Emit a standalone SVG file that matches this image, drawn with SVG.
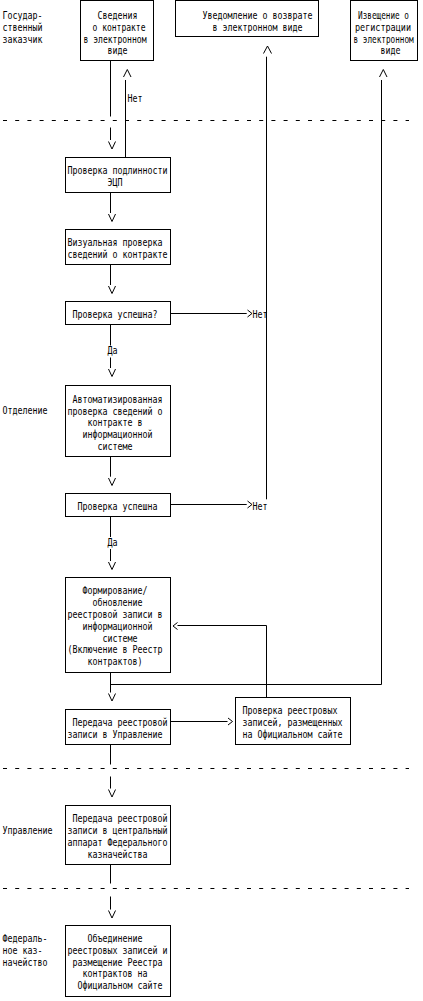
<svg xmlns="http://www.w3.org/2000/svg" width="423" height="1001" viewBox="0 0 423 1001">
<style>
.t{font-family:"DejaVu Sans Mono","Liberation Mono",monospace;font-size:11px;fill:#000}
.box{fill:#fff;stroke:#000;stroke-width:1}
.ln{fill:none;stroke:#000;stroke-width:1}
.dash{fill:none;stroke:#000;stroke-width:1;stroke-dasharray:4 8.2}
</style>
<rect x="0" y="0" width="423" height="1001" fill="#fff"/>

<g id="lanes">
<line class="dash" x1="3" y1="120.5" x2="409" y2="120.5"/>
<line class="dash" x1="3" y1="768.5" x2="409" y2="768.5"/>
<line class="dash" x1="3" y1="888.5" x2="409" y2="888.5"/>
<text class="t" x="2.5" y="19" textLength="40" lengthAdjust="spacingAndGlyphs">Государ-</text>
<text class="t" x="2.5" y="30.8" textLength="40" lengthAdjust="spacingAndGlyphs">ственный</text>
<text class="t" x="2.5" y="42.6" textLength="40" lengthAdjust="spacingAndGlyphs">заказчик</text>
<text class="t" x="2.5" y="414.3" textLength="45" lengthAdjust="spacingAndGlyphs">Отделение</text>
<text class="t" x="2.5" y="834" textLength="50" lengthAdjust="spacingAndGlyphs">Управление</text>
<text class="t" x="2.5" y="942" textLength="45" lengthAdjust="spacingAndGlyphs">Федераль-</text>
<text class="t" x="2.5" y="953.8" textLength="40" lengthAdjust="spacingAndGlyphs">ное каз-</text>
<text class="t" x="2.5" y="965.6" textLength="45" lengthAdjust="spacingAndGlyphs">начейство</text>
</g>

<g id="connectors">
<polyline class="ln" points="110.5,60.5 110.5,116.5"/>
<polyline class="ln" points="110.5,127.5 110.5,140"/>
<polyline class="ln" points="108.5,141.5 112,149 115.5,141.5"/>
<polyline class="ln" points="125.5,80 125.5,157.5"/>
<polyline class="ln" points="123.5,77 127.3,69.5 131,77"/>
<text class="t" x="127.5" y="102" textLength="15" lengthAdjust="spacingAndGlyphs">Нет</text>
<polyline class="ln" points="266.5,56.7 266.5,499.3"/>
<polyline class="ln" points="263.5,53.5 267.5,46 271.5,53.5"/>
<polyline class="ln" points="381.5,80 381.5,684.5 110.5,684.5"/>
<polyline class="ln" points="379.5,77 383.3,69.5 387,77"/>
<polyline class="ln" points="110.5,192.5 110.5,213"/>
<polyline class="ln" points="108.5,214 112,221.5 115.5,214"/>
<polyline class="ln" points="110.5,264.5 110.5,285"/>
<polyline class="ln" points="108.5,286 112,293.5 115.5,286"/>
<polyline class="ln" points="170.5,313.5 246.7,313.5"/>
<polyline class="ln" points="247.5,310 252,313.5 247.5,317"/>
<text class="t" x="252.5" y="318.3" textLength="15" lengthAdjust="spacingAndGlyphs">Нет</text>
<polyline class="ln" points="110.5,324.5 110.5,345.5"/>
<text class="t" x="107.5" y="354.3" textLength="10" lengthAdjust="spacingAndGlyphs">Да</text>
<polyline class="ln" points="110.5,357.5 110.5,368"/>
<polyline class="ln" points="108.5,369 112,376.5 115.5,369"/>
<polyline class="ln" points="110.5,456.5 110.5,476.7"/>
<polyline class="ln" points="108.5,478 112,485.5 115.5,478"/>
<polyline class="ln" points="170.5,504.5 246.7,504.5"/>
<polyline class="ln" points="247.5,501 252,504.5 247.5,508"/>
<text class="t" x="252.5" y="510" textLength="15" lengthAdjust="spacingAndGlyphs">Нет</text>
<polyline class="ln" points="110.5,516.5 110.5,537"/>
<text class="t" x="107.5" y="546" textLength="10" lengthAdjust="spacingAndGlyphs">Да</text>
<polyline class="ln" points="110.5,549 110.5,561"/>
<polyline class="ln" points="108.5,562 112,569.5 115.5,562"/>
<polyline class="ln" points="266.5,697.5 266.5,625.5 177.5,625.5"/>
<polyline class="ln" points="177.5,622.5 173,626 177.5,629.5"/>
<polyline class="ln" points="110.5,672.5 110.5,692.5"/>
<polyline class="ln" points="108.5,693.5 112,701 115.5,693.5"/>
<polyline class="ln" points="170.5,721.5 227.5,721.5"/>
<polyline class="ln" points="228,718 232.5,721.5 228,725"/>
<polyline class="ln" points="110.5,744.5 110.5,764.5"/>
<polyline class="ln" points="110.5,776.5 110.5,788.5"/>
<polyline class="ln" points="108.5,789.5 112,797 115.5,789.5"/>
<polyline class="ln" points="110.5,864.5 110.5,883.5"/>
<polyline class="ln" points="110.5,896.5 110.5,909.5"/>
<polyline class="ln" points="108.5,910.5 112,918 115.5,910.5"/>
</g>

<g id="n-svedeniya">
<rect class="box" x="80.5" y="0.5" width="73" height="60"/>
<text class="t" x="97.5" y="19" textLength="40" lengthAdjust="spacingAndGlyphs">Сведения</text>
<text class="t" x="92.5" y="30.8" textLength="53" lengthAdjust="spacingAndGlyphs">о контракте</text>
<text class="t" x="83.5" y="42.6" textLength="63" lengthAdjust="spacingAndGlyphs">в электронном</text>
<text class="t" x="107.5" y="54.4" textLength="20" lengthAdjust="spacingAndGlyphs">виде</text>
</g>

<g id="n-uvedomlenie">
<rect class="box" x="175.5" y="0.5" width="143" height="36"/>
<text class="t" x="202.5" y="19" textLength="110" lengthAdjust="spacingAndGlyphs">Уведомление о возврате</text>
<text class="t" x="212.5" y="30.8" textLength="90" lengthAdjust="spacingAndGlyphs">в электронном виде</text>
</g>

<g id="n-izveshchenie">
<rect class="box" x="350.5" y="0.5" width="67" height="60"/>
<text class="t" transform="translate(358,19) scale(0.7,1)">Извещение о</text>
<text class="t" transform="translate(355,30.8) scale(0.77,1)">регистрации</text>
<text class="t" transform="translate(353.5,42.6) scale(0.7,1)">в электронном</text>
<text class="t" transform="translate(380.5,54.4) scale(0.755,1)">виде</text>
</g>

<g id="n-ecp">
<rect class="box" x="65.5" y="157.5" width="105" height="35"/>
<text class="t" x="67.5" y="174.3" textLength="100" lengthAdjust="spacingAndGlyphs">Проверка подлинности</text>
<text class="t" x="107.5" y="186" textLength="15" lengthAdjust="spacingAndGlyphs">ЭЦП</text>
</g>

<g id="n-vizual">
<rect class="box" x="65.5" y="229.5" width="105" height="35"/>
<text class="t" x="67.5" y="246" textLength="95" lengthAdjust="spacingAndGlyphs">Визуальная проверка</text>
<text class="t" x="67.5" y="257.8" textLength="100" lengthAdjust="spacingAndGlyphs">сведений о контракте</text>
</g>

<g id="n-check1">
<rect class="box" x="65.5" y="301.5" width="105" height="23"/>
<text class="t" x="72.5" y="318.3" textLength="85" lengthAdjust="spacingAndGlyphs">Проверка успешна?</text>
</g>

<g id="n-auto">
<rect class="box" x="65.5" y="385.5" width="105" height="71"/>
<text class="t" x="72.5" y="402.7" textLength="90" lengthAdjust="spacingAndGlyphs">Автоматизированная</text>
<text class="t" x="67.5" y="414.5" textLength="95" lengthAdjust="spacingAndGlyphs">проверка сведений о</text>
<text class="t" x="87.5" y="426.3" textLength="55" lengthAdjust="spacingAndGlyphs">контракте в</text>
<text class="t" x="82.5" y="438.1" textLength="70" lengthAdjust="spacingAndGlyphs">информационной</text>
<text class="t" x="97.5" y="449.9" textLength="35" lengthAdjust="spacingAndGlyphs">системе</text>
</g>

<g id="n-check2">
<rect class="box" x="65.5" y="493.5" width="105" height="23"/>
<text class="t" x="77.5" y="510" textLength="80" lengthAdjust="spacingAndGlyphs">Проверка успешна</text>
</g>

<g id="n-form">
<rect class="box" x="65.5" y="577.5" width="105" height="95"/>
<text class="t" x="82.5" y="594.3" textLength="65" lengthAdjust="spacingAndGlyphs">Формирование/</text>
<text class="t" x="92.5" y="606.1" textLength="50" lengthAdjust="spacingAndGlyphs">обновление</text>
<text class="t" x="67.5" y="617.9" textLength="95" lengthAdjust="spacingAndGlyphs">реестровой записи в</text>
<text class="t" x="82.5" y="629.7" textLength="70" lengthAdjust="spacingAndGlyphs">информационной</text>
<text class="t" x="102.5" y="641.5" textLength="35" lengthAdjust="spacingAndGlyphs">системе</text>
<text class="t" x="67.5" y="653.3" textLength="95" lengthAdjust="spacingAndGlyphs">(Включение в Реестр</text>
<text class="t" x="87.5" y="665.1" textLength="55" lengthAdjust="spacingAndGlyphs">контрактов)</text>
</g>

<g id="n-peredacha1">
<rect class="box" x="65.5" y="709.5" width="105" height="35"/>
<text class="t" x="72.5" y="726" textLength="95" lengthAdjust="spacingAndGlyphs">Передача реестровой</text>
<text class="t" x="67.5" y="737.8" textLength="95" lengthAdjust="spacingAndGlyphs">записи в Управление</text>
</g>

<g id="n-proverka-reestr">
<rect class="box" x="235.5" y="697.5" width="115" height="47"/>
<text class="t" x="242.5" y="714.3" textLength="95" lengthAdjust="spacingAndGlyphs">Проверка реестровых</text>
<text class="t" x="242.5" y="726.1" textLength="100" lengthAdjust="spacingAndGlyphs">записей, размещенных</text>
<text class="t" x="242.5" y="737.9" textLength="100" lengthAdjust="spacingAndGlyphs">на Официальном сайте</text>
</g>

<g id="n-peredacha2">
<rect class="box" x="65.5" y="805.5" width="105" height="59"/>
<text class="t" x="72.5" y="822.3" textLength="95" lengthAdjust="spacingAndGlyphs">Передача реестровой</text>
<text class="t" x="67.5" y="834.1" textLength="100" lengthAdjust="spacingAndGlyphs">записи в центральный</text>
<text class="t" x="67.5" y="845.9" textLength="100" lengthAdjust="spacingAndGlyphs">аппарат Федерального</text>
<text class="t" x="87.5" y="857.7" textLength="60" lengthAdjust="spacingAndGlyphs">казначейства</text>
</g>

<g id="n-obedinenie">
<rect class="box" x="65.5" y="925.5" width="105" height="71"/>
<text class="t" x="87.5" y="942" textLength="55" lengthAdjust="spacingAndGlyphs">Объединение</text>
<text class="t" x="67.5" y="953.8" textLength="100" lengthAdjust="spacingAndGlyphs">реестровых записей и</text>
<text class="t" x="72.5" y="965.6" textLength="90" lengthAdjust="spacingAndGlyphs">размещение Реестра</text>
<text class="t" x="82.5" y="977.4" textLength="65" lengthAdjust="spacingAndGlyphs">контрактов на</text>
<text class="t" x="77.5" y="989.2" textLength="85" lengthAdjust="spacingAndGlyphs">Официальном сайте</text>
</g>
</svg>
